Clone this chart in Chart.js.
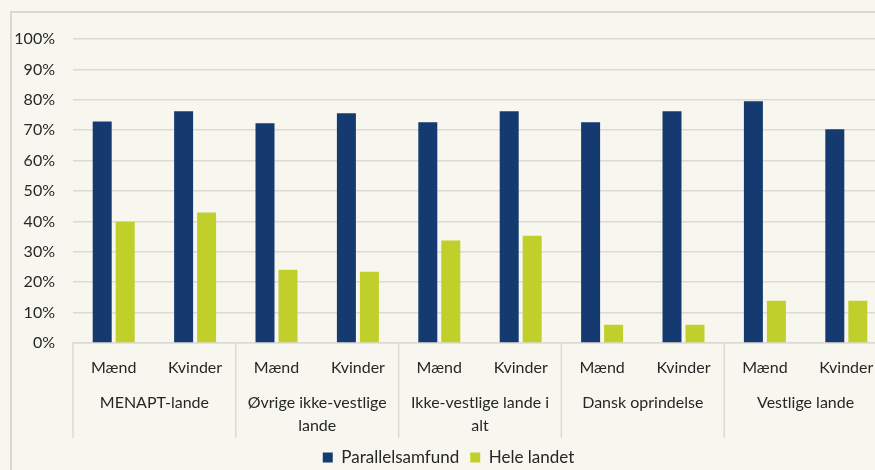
<!DOCTYPE html>
<html>
<head>
<meta charset="utf-8">
<script src="https://cdn.jsdelivr.net/npm/chart.js@4.4.1/dist/chart.umd.min.js"></script>
<style>
  html, body { margin: 0; padding: 0; background: #f8f7ef; overflow: hidden; }
  #wrap { width: 900px; height: 470px; }
</style>
</head>
<body>
<div id="wrap"><canvas id="chart" width="900" height="470"></canvas></div>
<script>
var subLabels = ['Mænd', 'Kvinder', 'Mænd', 'Kvinder', 'Mænd', 'Kvinder', 'Mænd', 'Kvinder', 'Mænd', 'Kvinder']
var groupLabels = ['MENAPT-lande', ['Øvrige ikke-vestlige', 'lande'], ['Ikke-vestlige lande i', 'alt'], 'Dansk oprindelse', 'Vestlige lande']
var parallel = [72.9, 76.2, 72.3, 75.6, 72.6, 76.2, 72.6, 76.2, 79.5, 70.3]
var heleLandet = [39.9, 42.9, 24.1, 23.4, 33.7, 35.3, 6.0, 6.0, 13.9, 13.9]
var yTicks = [0, 10, 20, 30, 40, 50, 60, 70, 80, 90, 100]

var txt = '#262626'
var gridCol = '#dcdad4'

// background + outer frame + group separators
var framePlugin = {
    id: 'frame',
    beforeDraw: function (chart) {
        var ctx = chart.ctx
        ctx.save()
        ctx.fillStyle = '#f8f7ef'
        ctx.fillRect(0, 0, chart.width, chart.height)
        ctx.strokeStyle = '#d9d8d2'
        ctx.lineWidth = 2
        ctx.strokeRect(11, 12, chart.width, chart.height)
        ctx.restore()
    },
    afterDraw: function (chart) {
        var x = chart.scales.x, x2 = chart.scales.x2
        var cw = x.getPixelForValue(1) - x.getPixelForValue(0)
        var ctx = chart.ctx
        ctx.save()
        ctx.strokeStyle = gridCol
        ctx.lineWidth = 1.5
        for (var g = 0; g <= groupLabels.length; g++) {
            var px = x.getPixelForValue(g * 2) - cw / 2
            ctx.beginPath()
            ctx.moveTo(px, chart.chartArea.bottom)
            ctx.lineTo(px, x2.bottom)
            ctx.stroke()
        }
        ctx.restore()
    }
}

var ctx = document.getElementById('chart').getContext('2d')
var myChart = new Chart(ctx, {
    type: 'bar',
    data: {
        labels: subLabels,
        datasets: [
            { label: 'Parallelsamfund', data: parallel, backgroundColor: '#143a70', xAxisID: 'x' },
            { label: 'Hele landet', data: heleLandet, backgroundColor: '#c0cf2a', xAxisID: 'x' }
        ]
    },
    options: {
        responsive: false,
        animation: false,
        devicePixelRatio: 1,
        categoryPercentage: 0.565,
        barPercentage: 0.826,
        layout: { padding: { left: 10, right: 13, top: 39, bottom: -6 } },
        plugins: {
            tooltip: { enabled: false },
            legend: {
                position: 'bottom',
                labels: {
                    boxWidth: 10, boxHeight: 10, padding: 11, color: txt,
                    font: { family: 'Lato', size: 17 }
                }
            }
        },
        scales: {
            y: {
                min: 0, max: 100,
                afterBuildTicks: function (s) { s.ticks = yTicks.map(function (v) { return { value: v } }) },
                afterFit: function (s) { s.width = 63 },
                grid: { color: gridCol, lineWidth: 1.5, drawTicks: false },
                border: { display: false },
                ticks: {
                    padding: 18, color: txt,
                    font: { family: 'Lato', size: 16 },
                    callback: function (v) { return v + '%' }
                }
            },
            x: {
                weight: 0,
                afterFit: function (s) { s.height = 43 },
                grid: { display: false, tickLength: 0 },
                border: { display: true, color: gridCol, width: 1.5 },
                ticks: { padding: 15, color: txt, font: { family: 'Lato', size: 16 }, maxRotation: 0, autoSkip: false }
            },
            x2: {
                type: 'category',
                position: 'bottom',
                weight: 1,
                labels: groupLabels,
                offset: true,
                afterFit: function (s) { s.height = 52 },
                grid: { display: false, tickLength: 0 },
                border: { display: false },
                ticks: { padding: 5, color: txt, font: { family: 'Lato', size: 16, lineHeight: 1.44 }, maxRotation: 0, autoSkip: false }
            }
        }
    },
    plugins: [framePlugin]
})
</script>
</body>
</html>
